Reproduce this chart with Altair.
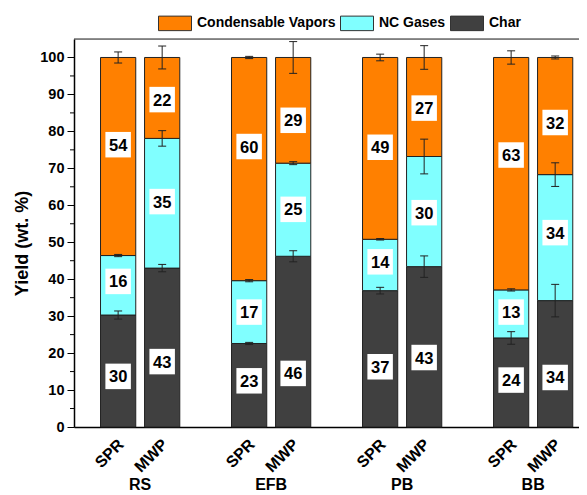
import altair as alt
import pandas as pd

groups = ["RS", "EFB", "PB", "BB"]
methods = ["SPR", "MWP"]
components = ["Condensable Vapors", "NC Gases", "Char"]
colors = ["#FF8000", "#80FFFF", "#404040"]

# bars in order RS-SPR, RS-MWP, EFB-SPR, EFB-MWP, PB-SPR, PB-MWP, BB-SPR, BB-MWP
char = [30.3, 43.0, 22.6, 46.2, 36.9, 43.4, 24.1, 34.2]
nc = [16.1, 35.1, 17.0, 25.2, 13.9, 29.8, 13.0, 34.1]
vapor = [53.6, 21.9, 60.4, 28.6, 49.2, 26.8, 62.9, 31.7]
char_err = [1.1, 1.0, 0.3, 1.5, 0.9, 2.9, 1.7, 4.4]
nc_err = [0.3, 2.1, 0.3, 0.4, 0.2, 4.7, 0.3, 3.2]
vapor_err = [1.5, 3.1, 0.3, 4.3, 0.9, 3.2, 1.8, 0.4]
char_lab_y = [13.7, 17.7, 12.5, 14.5, 16.3, 18.8, 12.7, 13.4]
nc_lab_y = [39.4, 61.0, 31.1, 58.9, 44.7, 58.0, 31.1, 52.6]
vapor_lab_y = [76.4, 88.6, 75.9, 83.0, 75.7, 86.3, 73.6, 82.4]

y_ticks = [0, 10, 20, 30, 40, 50, 60, 70, 80, 90, 100]
y_minor = [5, 15, 25, 35, 45, 55, 65, 75, 85, 95]
y_max = 105

FONT = "Liberation Sans"

rows = []
for i in range(len(char)):
    g = groups[i // 2]
    m = methods[i % 2]
    segs = [
        ("Char", char[i], char_err[i], char_lab_y[i]),
        ("NC Gases", nc[i], nc_err[i], nc_lab_y[i]),
        ("Condensable Vapors", vapor[i], vapor_err[i], vapor_lab_y[i]),
    ]
    base = 0.0
    for k, (name, v, e, ly) in enumerate(segs):
        top = base + v
        rows.append(dict(group=g, method=m, comp=name, ord=k, value=v,
                         bottom=base, top=top, lo=top - e, hi=top + e, laby=ly))
        base = top
df = pd.DataFrame(rows)
bars_df = df[df["ord"] == 0].copy()

xscale = alt.Scale(domain=groups, paddingInner=0.395, paddingOuter=0.125, align=0.81)
xaxis = alt.Axis(title=None, ticks=False, labelAngle=0, labelFontSize=16, labelFontWeight="bold",
                 labelColor="black", labelFont=FONT, labelPadding=49, labelBaseline="top",
                 domainColor="black", domainWidth=1.5, grid=False)
X = alt.X("group:N", scale=xscale, axis=xaxis, sort=groups)
XO = alt.XOffset("method:N", scale=alt.Scale(domain=methods, paddingInner=0.2, paddingOuter=0), sort=methods)

yscale = alt.Scale(domain=[0, y_max], nice=False, zero=True)
yaxis = alt.Axis(values=y_ticks, title="Yield (wt. %)", titleFontSize=18, titleFontWeight="bold",
                 titleFont=FONT, titleColor="black", titleX=-47, titleY=204, titleAngle=270,
                 titleAlign="center", titleBaseline="alphabetic",
                 labelFontSize=14.5, labelFontWeight="bold", labelColor="black", labelFont=FONT,
                 labelPadding=3, tickSize=7, tickColor="black", tickWidth=1,
                 domainColor="black", domainWidth=1.5, grid=False)


def Y(field):
    return alt.Y(field, scale=yscale, axis=yaxis)


base = alt.Chart(df)

bars = base.mark_bar(stroke="#222222", strokeWidth=1).encode(
    x=X, xOffset=XO, y=Y("bottom:Q"), y2="top:Q",
    color=alt.Color("comp:N", scale=alt.Scale(domain=components, range=colors),
                    legend=alt.Legend(orient="none", legendX=84, legendY=-33, direction="horizontal",
                                      title=None, symbolType="M-1,-0.44H1V0.44H-1Z", symbolSize=1089,
                                      symbolStrokeColor="#333333", symbolStrokeWidth=1, symbolOpacity=1,
                                      labelFontSize=14, labelFontWeight="bold", labelFont=FONT,
                                      labelColor="black", labelOffset=5, columnPadding=2, padding=0)),
)

err = base.mark_rule(color="#222222", strokeWidth=1).encode(x=X, xOffset=XO, y=Y("lo:Q"), y2="hi:Q")
cap_lo = base.mark_tick(orient="horizontal", size=8, thickness=1, color="#222222", opacity=1).encode(
    x=X, xOffset=XO, y=Y("lo:Q"))
cap_hi = base.mark_tick(orient="horizontal", size=8, thickness=1, color="#222222", opacity=1).encode(
    x=X, xOffset=XO, y=Y("hi:Q"))

boxes = base.mark_square(size=650, color="white", opacity=1, filled=True, strokeWidth=0).encode(
    x=X, xOffset=XO, y=Y("laby:Q"))
texts = base.mark_text(fontSize=16.5, fontWeight="bold", font=FONT, color="black", baseline="middle",
                       dy=1).encode(
    x=X, xOffset=XO, y=Y("laby:Q"), text=alt.Text("value:Q", format=".0f"))

minor = alt.Chart(pd.DataFrame({"v": y_minor})).mark_rule(color="black", strokeWidth=1).encode(
    y=Y("v:Q"), x=alt.value(-4), x2=alt.value(0))
topline = alt.Chart(pd.DataFrame({"v": [y_max]})).mark_rule(color="#222222", strokeWidth=1).encode(
    y=Y("v:Q"))

mlabels = alt.Chart(bars_df).mark_text(angle=315, align="right", baseline="top", dx=-1.4, dy=-2.4,
                                       fontSize=16, fontWeight="bold", font=FONT, color="black").encode(
    x=X, xOffset=XO, y=alt.value(398), text="method:N")

chart = alt.layer(bars, err, cap_lo, cap_hi, boxes, texts, minor, topline, mlabels).properties(
    width=505, height=388,
    autosize=alt.AutoSizeParams(type="none"),
    padding={"left": 66, "top": 31, "right": 0, "bottom": 68},
).configure_view(stroke=None).configure(font=FONT)

chart.save("out.html", embed_options={"renderer": "svg", "actions": False})
